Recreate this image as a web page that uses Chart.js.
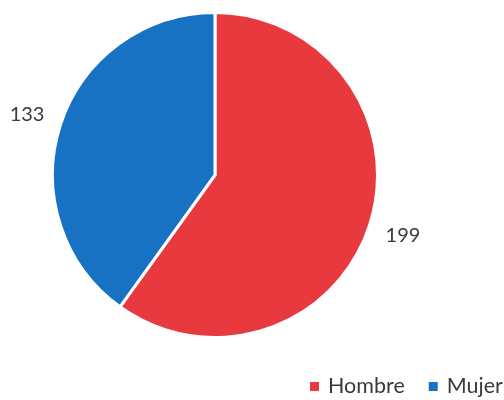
<!DOCTYPE html>
<html>
<head>
<meta charset="utf-8">
<script src="https://cdn.jsdelivr.net/npm/chart.js@4/dist/chart.umd.min.js"></script>
<style>
  html, body { margin: 0; padding: 0; background: #fff; }
  #wrap { width: 504px; height: 400px; }
</style>
</head>
<body>
<div id="wrap"><canvas id="Rond" width="504" height="400"></canvas></div>
<script>
// donnees du camembert
var categories = ["Hombre", "Mujer"];
var valeurs = [199, 133];
var couleurs = ["#e8393f", "#1872c4"];

var policeTexte = "Lato, 'Open Sans', sans-serif";

// etiquettes des valeurs a l'exterieur des parts
var etiquettesExterieur = {
    id: 'etiquettesExterieur',
    afterDatasetsDraw: function (chart) {
        var ctx = chart.ctx;
        var arcs = chart.getDatasetMeta(0).data;
        ctx.save();
        ctx.font = "20px " + policeTexte;
        ctx.fillStyle = "#3a3a3a";
        ctx.textAlign = "center";
        ctx.textBaseline = "middle";
        for (var i = 0; i < arcs.length; i++) {
            var a = arcs[i];
            var mid = (a.startAngle + a.endAngle) / 2;
            var r = a.outerRadius + 35;
            ctx.fillText(String(valeurs[i]), a.x + Math.cos(mid) * r, a.y + Math.sin(mid) * r);
        }
        ctx.restore();
    }
};

// legende dessinee a la main en bas a droite
var legendeBas = {
    id: 'legendeBas',
    afterDraw: function (chart) {
        var ctx = chart.ctx;
        var x = 310;
        var y = 386.5;
        ctx.save();
        ctx.font = "21.5px " + policeTexte;
        ctx.textBaseline = "middle";
        for (var i = 0; i < categories.length; i++) {
            ctx.fillStyle = couleurs[i];
            ctx.fillRect(x, y - 4.5, 9, 9);
            ctx.fillStyle = "#3a3a3a";
            ctx.fillText(categories[i], x + 18, y);
            x += 18 + ctx.measureText(categories[i]).width + 24;
        }
        ctx.restore();
    }
};

new Chart(document.getElementById("Rond"), {
    type: 'pie',
    data: {
        labels: categories,
        datasets: [{
            data: valeurs,
            backgroundColor: couleurs,
            borderColor: "#ffffff",
            borderWidth: 3
        }]
    },
    options: {
        responsive: false,
        animation: false,
        layout: {
            padding: { top: 0, bottom: 50, left: 51, right: 125 }
        },
        plugins: {
            legend: { display: false },
            tooltip: { enabled: false }
        }
    },
    plugins: [etiquettesExterieur, legendeBas]
});
</script>
</body>
</html>
